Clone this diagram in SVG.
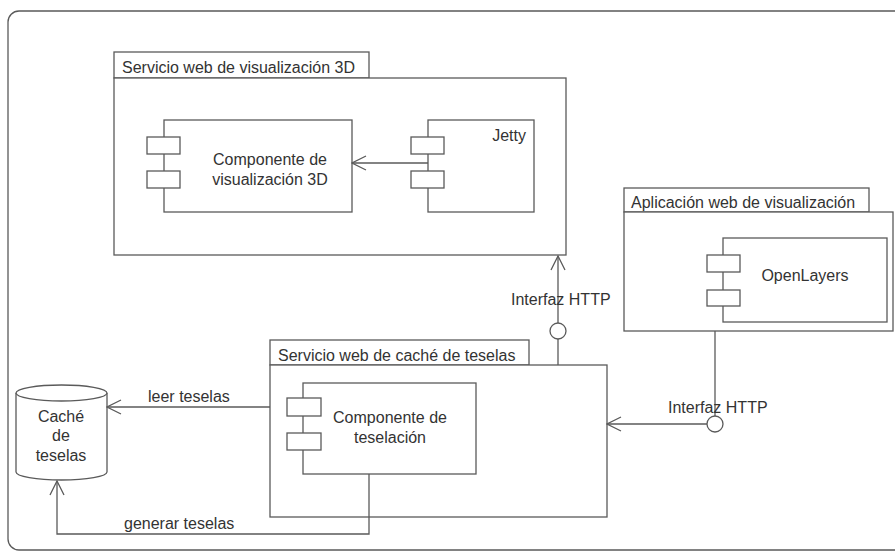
<svg xmlns="http://www.w3.org/2000/svg" width="895" height="554" viewBox="0 0 895 554">
<style>
.ln{fill:none;stroke:#5a5a5a;stroke-width:1.3}
.bx{fill:#fff;stroke:#5a5a5a;stroke-width:1.3}
.t{font-family:"Liberation Sans",Arial,sans-serif;font-size:16px;fill:#333}
.c{text-anchor:middle}
</style>
<defs>
<marker id="oa" viewBox="0 0 16 16" refX="15" refY="8" markerWidth="16" markerHeight="16" markerUnits="userSpaceOnUse" orient="auto">
<path d="M1 1 L15 8 L1 15" fill="none" stroke="#5a5a5a" stroke-width="1.3"/>
</marker>
</defs>
<rect x="8" y="11" width="900" height="539" rx="11" class="ln"/>

<g id="pkg3d">
<rect x="114" y="52" width="255" height="26" class="bx"/>
<rect x="114" y="78" width="452" height="177" class="bx"/>
<text x="122" y="73" class="t">Servicio web de visualización 3D</text>
</g>
<g id="comp3d">
<rect x="164" y="120" width="188" height="92" class="bx"/>
<rect x="147" y="137" width="33" height="17" class="bx"/>
<rect x="147" y="171" width="33" height="17" class="bx"/>
<text x="270" y="165" class="t c">Componente de</text>
<text x="270" y="185" class="t c">visualización 3D</text>
</g>
<g id="jetty">
<rect x="428" y="120" width="106" height="92" class="bx"/>
<rect x="411" y="137" width="33" height="17" class="bx"/>
<rect x="411" y="171" width="33" height="17" class="bx"/>
<text x="526" y="141" class="t" text-anchor="end">Jetty</text>
</g>

<g id="pkgapp">
<rect x="624" y="188" width="245" height="24" class="bx"/>
<rect x="624" y="212" width="269" height="119" class="bx"/>
<text x="631" y="208" class="t">Aplicación web de visualización</text>
</g>
<g id="openlayers">
<rect x="723" y="238" width="164" height="84" class="bx"/>
<rect x="707" y="255" width="33" height="17" class="bx"/>
<rect x="707" y="290" width="33" height="16" class="bx"/>
<text x="805" y="281" class="t c">OpenLayers</text>
</g>

<g id="pkgcache">
<rect x="270" y="340" width="259" height="25" class="bx"/>
<rect x="270" y="365" width="337" height="152" class="bx"/>
<text x="278" y="361" class="t">Servicio web de caché de teselas</text>
</g>
<g id="comptesel">
<rect x="303" y="383" width="173" height="91" class="bx"/>
<rect x="287" y="398" width="34" height="18" class="bx"/>
<rect x="287" y="433" width="34" height="17" class="bx"/>
<text x="390" y="423" class="t c">Componente de</text>
<text x="390" y="443" class="t c">teselación</text>
</g>

<g id="cachedb">
<path d="M16 393 L16 472 A45.5 8 0 0 0 107 472 L107 393" class="bx"/>
<ellipse cx="61.5" cy="393" rx="45.5" ry="8" class="bx"/>
<text x="61" y="422" class="t c">Caché</text>
<text x="61" y="441" class="t c">de</text>
<text x="61" y="461" class="t c">teselas</text>
</g>

<g id="connectors">
<line x1="428" y1="163" x2="352" y2="163" class="ln" marker-end="url(#oa)"/>
<line x1="558" y1="365" x2="558" y2="339" class="ln"/>
<line x1="558" y1="323" x2="558" y2="256" class="ln" marker-end="url(#oa)"/>
<circle cx="558" cy="331" r="8" class="bx"/>
<text x="511" y="305" class="t">Interfaz HTTP</text>
<line x1="715" y1="331" x2="715" y2="416" class="ln"/>
<line x1="707" y1="424" x2="607" y2="424" class="ln" marker-end="url(#oa)"/>
<circle cx="715" cy="424" r="8" class="bx"/>
<text x="668" y="413" class="t">Interfaz HTTP</text>
<line x1="270" y1="407" x2="107" y2="407" class="ln" marker-end="url(#oa)"/>
<text x="148" y="402" class="t">leer teselas</text>
<polyline points="369,474 369,534 57,534 57,481" class="ln" marker-end="url(#oa)"/>
<text x="124" y="529" class="t">generar teselas</text>
</g>
</svg>
